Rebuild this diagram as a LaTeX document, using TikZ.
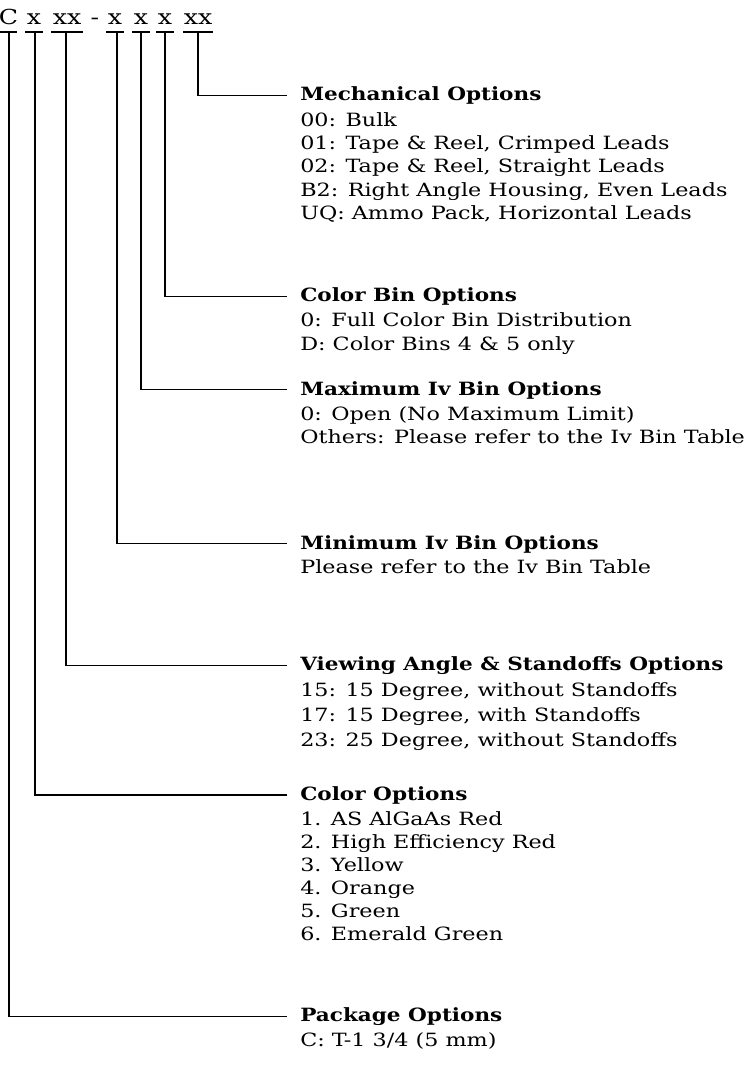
\documentclass[tikz,border=0pt]{standalone}
\usepackage{fontspec}
\setmainfont{DejaVu Serif}[FakeStretch=1.22]
\newfontfamily\hdrfont{DejaVu Serif Bold}[FakeStretch=1.18]
\begin{document}
\begin{tikzpicture}[x=0.75pt,y=-0.75pt,
  hdr/.style={anchor=base west,inner sep=0pt,font=\hdrfont\fontsize{13.7}{17}\selectfont},
  body/.style={anchor=base west,inner sep=0pt,font=\fontsize{13.7}{17}\selectfont},
  top/.style={anchor=base,inner sep=0pt,font=\fontsize{15.5}{20}\selectfont},
  lead/.style={line width=0.8pt,shorten >=9.75pt},
  uline/.style={line width=1.6pt}]
\useasboundingbox (0,0) rectangle (752,1069);
% top code
\node[top] (tC) at (8.5,25) {C};
\node[top] (t1) at (34,25) {x};
\node[top] (t2) at (67,25) {xx};
\node[top] (td) at (95,25) {-};
\node[top] (t3) at (115,25) {x};
\node[top] (t4) at (141,25) {x};
\node[top] (t5) at (165,25) {x};
\node[top] (t6) at (198,25) {xx};
\draw[uline] (0,32) -- (17,32) (25,32) -- (43,32) (51,32) -- (83,32)
  (106,32) -- (124,32) (132,32) -- (150,32) (156,32) -- (174,32) (183,32) -- (213,32);
\coordinate (c0) at (9,32);
\coordinate (c1) at (35,32);
\coordinate (c2) at (66,32);
\coordinate (c3) at (117,32);
\coordinate (c4) at (141,32);
\coordinate (c5) at (165,32);
\coordinate (c6) at (198,32);
% Mechanical
\node[hdr] (hm) at (300,101) {Mechanical Options};
\node[body] (m1) at (300,127) {00: Bulk};
\node[body] (m2) at (300,150) {01: Tape \& Reel, Crimped Leads};
\node[body] (m3) at (300,173) {02: Tape \& Reel, Straight Leads};
\node[body] (m4) at (300,197) {B2: Right Angle Housing, Even Leads};
\node[body] (m5) at (300,220) {UQ: Ammo Pack, Horizontal Leads};
% Color bin
\node[hdr] (hcb) at (300,302) {Color Bin Options};
\node[body] (cb1) at (300,327) {0: Full Color Bin Distribution};
\node[body] (cb2) at (300,350) {D: Color Bins 4 \& 5 only};
% Max Iv
\node[hdr] (hmx) at (300,395) {Maximum Iv Bin Options};
\node[body] (mx1) at (300,420) {0: Open (No Maximum Limit)};
\node[body] (mx2) at (300,443) {Others: Please refer to the Iv Bin Table};
% Min Iv
\node[hdr] (hmn) at (300,549) {Minimum Iv Bin Options};
\node[body] (mn1) at (300,573) {Please refer to the Iv Bin Table};
% Viewing
\node[hdr] (hv) at (300,670) {Viewing Angle \& Standoffs Options};
\node[body] (v1) at (300,696) {15: 15 Degree, without Standoffs};
\node[body] (v2) at (300,721) {17: 15 Degree, with Standoffs};
\node[body] (v3) at (300,746) {23: 25 Degree, without Standoffs};
% Color
\node[hdr] (hc) at (300,800) {Color Options};
\node[body] (co1) at (300,825) {1. AS AlGaAs Red};
\node[body] (co2) at (300,848) {2. High Efficiency Red};
\node[body] (co3) at (300,871) {3. Yellow};
\node[body] (co4) at (300,894) {4. Orange};
\node[body] (co5) at (300,917) {5. Green};
\node[body] (co6) at (300,940) {6. Emerald Green};
% Package
\node[hdr] (hp) at (300,1021) {Package Options};
\node[body] (p1) at (300,1046) {C: T-1 3/4 (5 mm)};
% leaders
\draw[lead] (c6) |- (hm.west);
\draw[lead] (c5) |- (hcb.west);
\draw[lead] (c4) |- (hmx.west);
\draw[lead] (c3) |- (hmn.west);
\draw[lead] (c2) |- (hv.west);
\draw[lead] (c1) |- (hc.west);
\draw[lead] (c0) |- (hp.west);
\end{tikzpicture}
\end{document}
